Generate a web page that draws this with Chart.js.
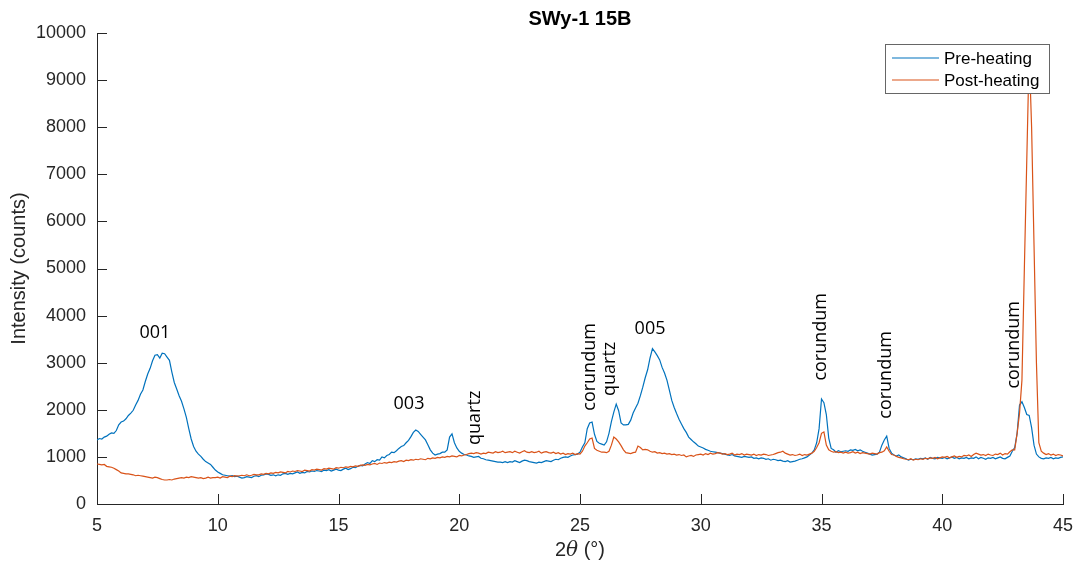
<!DOCTYPE html>
<html>
<head>
<meta charset="utf-8">
<title>SWy-1 15B</title>
<script src="https://cdn.jsdelivr.net/npm/chart.js@4.4.1/dist/chart.umd.min.js"></script>
<style>
  html, body { margin: 0; padding: 0; background: #fff; }
  #grafico { display: block; }
</style>
</head>
<body>
<canvas id="grafico" width="1073" height="563"></canvas>
<script>
// eixo 2θ: de 5° a 45° com passo de 0,1° (uma linha = um grau)
const inicioTheta = 5;
const passoTheta = 0.1;

const preHeating = [
    1360, 1390, 1380, 1420, 1440, 1480, 1510, 1500, 1560, 1680,   // 5
    1740, 1760, 1810, 1880, 1930, 1990, 2100, 2200, 2330, 2420,   // 6
    2600, 2760, 2880, 3040, 3160, 3170, 3100, 3200, 3190, 3120,   // 7
    3050, 2800, 2580, 2440, 2300, 2180, 2020, 1840, 1600, 1380,   // 8
    1220, 1120, 1060, 1010, 950, 900, 870, 840, 780, 720,         // 9
    680, 650, 620, 610, 600, 590, 600, 580, 590, 570,             // 10
    550, 560, 580, 570, 560, 590, 600, 580, 610, 620,             // 11
    640, 630, 610, 620, 600, 620, 610, 640, 650, 630,             // 12
    650, 640, 660, 680, 650, 670, 660, 690, 680, 700,             // 13
    690, 710, 700, 690, 720, 710, 730, 700, 720, 740,             // 14
    720, 710, 740, 760, 730, 750, 780, 770, 800, 820,             // 15
    810, 850, 880, 860, 920, 900, 940, 930, 1000, 980,            // 16
    1030, 1050, 1100, 1090, 1130, 1180, 1220, 1240, 1300, 1350,   // 17
    1430, 1520, 1570, 1540, 1480, 1420, 1360, 1260, 1150, 1080,   // 18
    1040, 1060, 1070, 1100, 1100, 1150, 1420, 1490, 1300, 1190,   // 19
    1120, 1080, 1050, 1040, 1020, 1010, 990, 1000, 1010, 970,     // 20
    960, 940, 930, 920, 910, 900, 890, 890, 880, 900,             // 21
    880, 900, 890, 920, 900, 880, 910, 930, 920, 900,             // 22
    890, 880, 870, 890, 880, 900, 920, 910, 900, 930,             // 23
    950, 940, 970, 990, 1000, 990, 1020, 1040, 1050, 1060,        // 24
    1100, 1210, 1300, 1600, 1720, 1740, 1480, 1330, 1290, 1270,   // 25
    1250, 1320, 1500, 1750, 1950, 2120, 1980, 1720, 1680, 1680,   // 26
    1690, 1780, 1930, 2040, 2140, 2300, 2480, 2680, 2850, 3100,   // 27
    3300, 3230, 3150, 3060, 2900, 2780, 2630, 2420, 2200, 2050,   // 28
    1920, 1800, 1700, 1600, 1520, 1420, 1370, 1320, 1280, 1230,   // 29
    1210, 1190, 1160, 1140, 1120, 1110, 1100, 1090, 1080, 1070,   // 30
    1060, 1040, 1030, 1050, 1020, 1010, 1000, 990, 1010, 1000,    // 31
    990, 1000, 970, 980, 960, 980, 970, 950, 960, 930,            // 32
    950, 940, 920, 930, 910, 900, 920, 890, 900, 910,             // 33
    930, 950, 960, 980, 1000, 1040, 1080, 1150, 1300, 1600,       // 34
    2230, 2150, 1900, 1400, 1180, 1150, 1100, 1130, 1110, 1120,   // 35
    1130, 1120, 1150, 1140, 1160, 1130, 1150, 1120, 1100, 1080,   // 36
    1060, 1040, 1050, 1060, 1100, 1250, 1360, 1440, 1180, 1080,   // 37
    1040, 1020, 1040, 1000, 980, 960, 930, 950, 940, 960,         // 38
    950, 970, 960, 980, 950, 990, 970, 960, 990, 980,             // 39
    970, 990, 960, 980, 1000, 970, 990, 960, 980, 970,            // 40
    990, 960, 980, 970, 1000, 960, 990, 970, 950, 980,            // 41
    970, 990, 960, 980, 1000, 970, 960, 990, 1020, 1120,          // 42
    1200, 1500, 2100, 2170, 2050, 1900, 1880, 1620, 1250, 1060,   // 43
    1000, 970, 960, 980, 970, 990, 960, 980, 970, 990,            // 44
    1000                                                          // 45
];

const postHeating = [
    850, 840, 830, 840, 800, 790, 780, 760, 730, 700,             // 5
    660, 650, 640, 640, 630, 620, 600, 610, 600, 590,             // 6
    580, 570, 560, 550, 570, 560, 540, 520, 510, 510,             // 7
    520, 510, 530, 540, 550, 560, 550, 570, 560, 580,             // 8
    570, 560, 550, 560, 540, 550, 570, 550, 560, 560,             // 9
    570, 550, 580, 570, 560, 590, 580, 600, 590, 600,             // 10
    610, 600, 620, 600, 610, 630, 620, 620, 640, 630,             // 11
    650, 640, 660, 650, 670, 660, 680, 670, 660, 690,             // 12
    680, 700, 690, 710, 700, 690, 720, 710, 700, 730,             // 13
    720, 740, 730, 720, 750, 740, 760, 750, 740, 770,             // 14
    760, 780, 770, 790, 780, 800, 790, 810, 800, 820,             // 15
    830, 820, 840, 830, 850, 860, 840, 870, 860, 880,             // 16
    870, 890, 880, 900, 890, 910, 920, 900, 930, 920,             // 17
    940, 930, 950, 940, 960, 950, 940, 970, 960, 980,             // 18
    970, 990, 980, 1000, 990, 1010, 1000, 1020, 1010, 1000,       // 19
    1030, 1020, 1040, 1050, 1070, 1080, 1070, 1090, 1080, 1060,   // 20
    1080, 1070, 1100, 1090, 1080, 1110, 1090, 1100, 1120, 1090,   // 21
    1100, 1110, 1090, 1120, 1100, 1080, 1110, 1130, 1100, 1090,   // 22
    1110, 1090, 1100, 1120, 1080, 1100, 1110, 1090, 1080, 1100,   // 23
    1070, 1090, 1060, 1080, 1050, 1070, 1060, 1080, 1050, 1070,   // 24
    1060, 1120, 1230, 1300, 1380, 1400, 1180, 1140, 1120, 1100,   // 25
    1100, 1090, 1120, 1250, 1420, 1380, 1320, 1240, 1150, 1090,   // 26
    1080, 1070, 1090, 1100, 1230, 1200, 1150, 1160, 1150, 1120,   // 27
    1100, 1110, 1080, 1090, 1070, 1080, 1060, 1070, 1050, 1060,   // 28
    1040, 1050, 1030, 1040, 1000, 1020, 1030, 1010, 1040, 1050,   // 29
    1060, 1040, 1070, 1050, 1080, 1060, 1070, 1090, 1080, 1060,   // 30
    1070, 1050, 1060, 1080, 1040, 1060, 1050, 1070, 1040, 1060,   // 31
    1050, 1040, 1060, 1030, 1050, 1040, 1060, 1050, 1030, 1040,   // 32
    1050, 1070, 1090, 1100, 1120, 1080, 1060, 1040, 1050, 1030,   // 33
    1040, 1060, 1030, 1050, 1040, 1060, 1080, 1120, 1200, 1300,   // 34
    1500, 1530, 1250, 1150, 1120, 1100, 1110, 1090, 1100, 1080,   // 35
    1100, 1080, 1090, 1110, 1080, 1100, 1070, 1090, 1080, 1070,   // 36
    1060, 1080, 1070, 1060, 1090, 1100, 1130, 1210, 1120, 1050,   // 37
    1040, 1010, 990, 980, 960, 950, 940, 960, 930, 950,           // 38
    940, 960, 950, 970, 960, 980, 970, 990, 960, 980,             // 39
    1000, 990, 1010, 980, 1000, 1020, 990, 1010, 1000, 1030,      // 40
    1020, 1040, 1010, 1050, 1080, 1060, 1040, 1050, 1030, 1060,   // 41
    1040, 1030, 1060, 1050, 1080, 1040, 1070, 1060, 1110, 1150,   // 42
    1150, 1500, 1930, 2630, 5000, 7300, 9600, 8000, 5500, 3000,   // 43
    1300, 1120, 1080, 1050, 1070, 1040, 1060, 1030, 1050, 1040,   // 44
    1020                                                          // 45
];

const ticksX = [5, 10, 15, 20, 25, 30, 35, 40, 45];
const ticksY = [0, 1000, 2000, 3000, 4000, 5000, 6000, 7000, 8000, 9000, 10000];

// rótulos dos picos (posição em 2θ e contagens)
const rotulos = [
    { texto: '001',      theta: 7.40,  contagem: 3630, vertical: false },
    { texto: '003',      theta: 17.92, contagem: 2120, vertical: false },
    { texto: 'quartz',   theta: 20.65, contagem: 1830, vertical: true },
    { texto: 'corundum', theta: 25.41, contagem: 2910, vertical: true },
    { texto: 'quartz',   theta: 26.24, contagem: 2870, vertical: true },
    { texto: '005',      theta: 27.90, contagem: 3720, vertical: false },
    { texto: 'corundum', theta: 34.98, contagem: 3550, vertical: true },
    { texto: 'corundum', theta: 37.67, contagem: 2740, vertical: true },
    { texto: 'corundum', theta: 42.97, contagem: 3380, vertical: true }
];

const corPre = '#0072BD';
const corPost = '#D95319';
const corEixo = '#262626';
const fonte = '"Liberation Sans", Arial, Helvetica, sans-serif';

function montarPontos(valores) {
    return valores.map((v, i) => ({ x: +(inicioTheta + i * passoTheta).toFixed(1), y: v }));
}

const desenhos = {
    id: 'desenhos',
    afterDatasetsDraw(chart) {
        const ctx = chart.ctx;
        const area = chart.chartArea;
        const sx = chart.scales.x;
        const sy = chart.scales.y;

        ctx.save();

        // ticks para dentro, estilo MATLAB
        ctx.strokeStyle = corEixo;
        ctx.lineWidth = 1;
        ctx.beginPath();
        sx.ticks.forEach(t => {
            const px = Math.round(sx.getPixelForValue(t.value)) + 0.5;
            ctx.moveTo(px, area.bottom);
            ctx.lineTo(px, area.bottom - 10);
        });
        sy.ticks.forEach(t => {
            const py = Math.round(sy.getPixelForValue(t.value)) + 0.5;
            ctx.moveTo(area.left, py);
            ctx.lineTo(area.left + 10, py);
        });
        ctx.stroke();

        // rótulos dos picos
        ctx.fillStyle = '#000';
        ctx.font = '18px "Open Sans", sans-serif';
        ctx.textAlign = 'center';
        ctx.textBaseline = 'middle';
        rotulos.forEach(r => {
            const px = sx.getPixelForValue(r.theta);
            const py = sy.getPixelForValue(r.contagem);
            ctx.save();
            ctx.translate(px, py);
            if (r.vertical) ctx.rotate(-Math.PI / 2);
            ctx.fillText(r.texto, 0, 0);
            ctx.restore();
        });

        // legenda dentro do gráfico
        const lx = 885.5, ly = 44.5, lw = 164, lh = 49;
        ctx.fillStyle = '#fff';
        ctx.fillRect(lx, ly, lw, lh);
        ctx.strokeStyle = '#666';
        ctx.strokeRect(lx, ly, lw, lh);
        const itens = [
            { nome: 'Pre-heating', cor: corPre, y: 58 },
            { nome: 'Post-heating', cor: corPost, y: 80 }
        ];
        ctx.font = '17px ' + fonte;
        ctx.textAlign = 'left';
        itens.forEach(it => {
            ctx.strokeStyle = it.cor;
            ctx.lineWidth = 1.2;
            ctx.beginPath();
            ctx.moveTo(892, it.y);
            ctx.lineTo(939, it.y);
            ctx.stroke();
            ctx.fillStyle = '#000';
            ctx.fillText(it.nome, 944, it.y + 1);
        });

        ctx.restore();
    },
    afterDraw(chart) {
        const ctx = chart.ctx;
        const area = chart.chartArea;
        const centroX = (area.left + area.right) / 2;

        ctx.save();
        ctx.fillStyle = '#000';

        // título
        ctx.font = 'bold 20px ' + fonte;
        ctx.textAlign = 'center';
        ctx.textBaseline = 'alphabetic';
        ctx.fillText('SWy-1 15B', centroX, 25);

        // título do eixo x: 2θ (°) com θ em itálico
        ctx.fillStyle = corEixo;
        const fN = '20px ' + fonte;
        const fI = 'italic 20px "DejaVu Serif", "Liberation Serif", serif';
        const partes = [['2', fN], ['\u03B8', fI], [' (\u00B0)', fN]];
        let total = 0;
        partes.forEach(p => { ctx.font = p[1]; total += ctx.measureText(p[0]).width; });
        let x = centroX - total / 2;
        ctx.textAlign = 'left';
        partes.forEach(p => {
            ctx.font = p[1];
            ctx.fillText(p[0], x, 556);
            x += ctx.measureText(p[0]).width;
        });

        // título do eixo y
        ctx.font = '20px ' + fonte;
        ctx.textAlign = 'center';
        ctx.textBaseline = 'middle';
        ctx.translate(19, (area.top + area.bottom) / 2);
        ctx.rotate(-Math.PI / 2);
        ctx.fillText('Intensity (counts)', 0, 0);

        ctx.restore();
    }
};

const ctx = document.getElementById('grafico');

new Chart(ctx, {
    type: 'line',
    data: {
        datasets: [
            {
                label: 'Pre-heating',
                data: montarPontos(preHeating),
                borderColor: corPre,
                borderWidth: 1.2,
                pointRadius: 0,
                tension: 0,
                fill: false,
                order: 1
            },
            {
                label: 'Post-heating',
                data: montarPontos(postHeating),
                borderColor: corPost,
                borderWidth: 1.2,
                pointRadius: 0,
                tension: 0,
                fill: false,
                order: 0
            }
        ]
    },
    options: {
        responsive: false,
        animation: false,
        layout: { padding: { top: 33, right: 10, bottom: 0, left: 0 } },
        plugins: {
            legend: { display: false },
            title: { display: false },
            tooltip: { enabled: false }
        },
        scales: {
            x: {
                type: 'linear',
                min: 5,
                max: 45,
                afterBuildTicks: s => { s.ticks = ticksX.map(v => ({ value: v })); },
                afterFit: s => {
                    s.height = 59;
                    s.paddingLeft = 0;
                    s.paddingRight = 0;
                },
                grid: { drawOnChartArea: false, drawTicks: false },
                border: { display: true, color: corEixo, width: 1 },
                ticks: {
                    font: { family: fonte, size: 18 },
                    color: corEixo,
                    padding: 11,
                    maxRotation: 0,
                    autoSkip: false,
                    callback: v => String(v)
                }
            },
            y: {
                min: 0,
                max: 10000,
                afterBuildTicks: s => { s.ticks = ticksY.map(v => ({ value: v })); },
                afterFit: s => {
                    s.width = 97;
                    s.paddingTop = 0;
                    s.paddingBottom = 0;
                },
                grid: { drawOnChartArea: false, drawTicks: false },
                border: { display: true, color: corEixo, width: 1 },
                ticks: {
                    font: { family: fonte, size: 18 },
                    color: corEixo,
                    padding: 11,
                    autoSkip: false,
                    callback: v => String(v)
                }
            }
        }
    },
    plugins: [desenhos]
});
</script>
</body>
</html>
